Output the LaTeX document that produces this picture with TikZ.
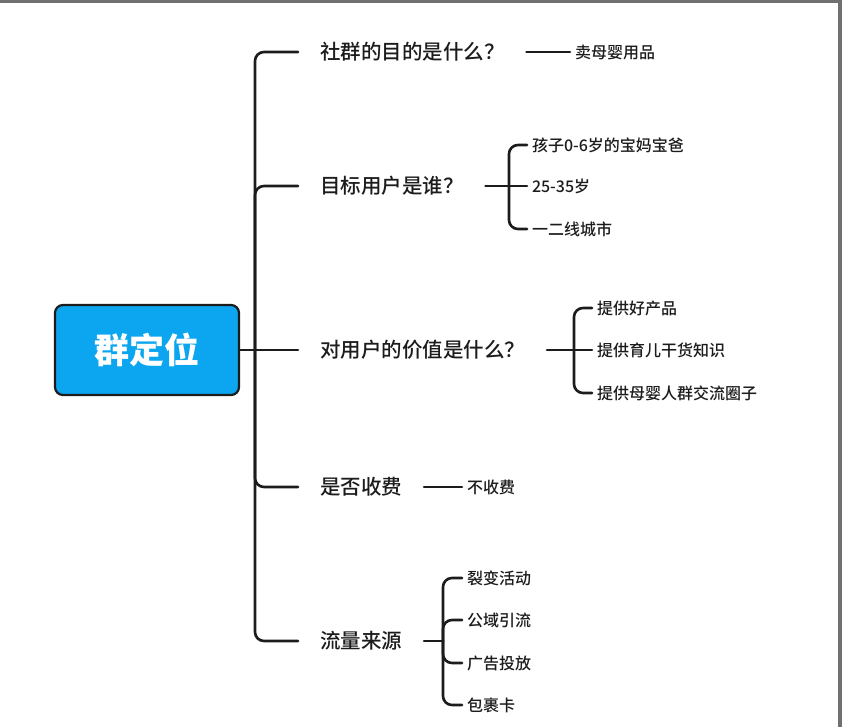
\documentclass[tikz,border=0pt]{standalone}
\usepackage{fontspec}
\setmainfont{Noto Sans CJK SC}
\newfontfamily\medfont{Noto Sans CJK SC Medium}
\usepackage{tikz}
\usepackage{xcolor}
\usetikzlibrary{positioning,calc}
\definecolor{topicblue}{RGB}{12,166,240}
\definecolor{ink}{RGB}{28,28,28}
\definecolor{screen}{RGB}{112,112,112}

\begin{document}
\begin{tikzpicture}[
    x=1pt, y=-1pt,
    topic/.style={draw=ink, line width=2.2pt, fill=topicblue, rounded corners=8pt, minimum width=184pt, minimum height=90pt, text=white, font=\bfseries\fontsize{35}{35}\selectfont},
    question/.style={anchor=west, inner xsep=0pt, outer xsep=22pt, text=ink, font=\medfont\fontsize{20.5}{20.5}\selectfont},
    answer/.style={anchor=west, inner xsep=0pt, outer xsep=5pt, text=ink, font=\medfont\fontsize{16}{16}\selectfont},
    link/.style={draw=ink, line width=2.6pt, rounded corners=9pt, line cap=round}
]
\useasboundingbox (0,0) rectangle (842,727);
% screenshot edges
\fill[screen] (0,0) rectangle (842,3);
\fill[screen] (838,0) rectangle (842,727);

\node[topic] (root) at (147,350) {群定位};
\coordinate (hub) at (255,350);

\node[question] (goal) at (298,52) {社群的目的是什么？};
\node[question] (users) at (298,186) {目标用户是谁？};
\node[question] (value) at (298,350) {对用户的价值是什么？};
\node[question] (fee) at (298,487) {是否收费};
\node[question] (traffic) at (298,641) {流量来源};

\node[answer] (sell) at (570,52) {卖母婴用品};

\coordinate (userhub) at (509,186);
\node[answer] (age) at (527,145) {孩子0-6岁的宝妈宝爸};
\node[answer] (range) at (527,186) {25-35岁};
\node[answer] (city) at (527,229) {一二线城市};

\coordinate (valuehub) at (574,350);
\node[answer] (product) at (592,308) {提供好产品};
\node[answer] (know) at (592,350) {提供育儿干货知识};
\node[answer] (circle) at (592,393) {提供母婴人群交流圈子};

\node[answer] (free) at (462,487) {不收费};

\coordinate (traffichub) at (443,641);
\node[answer] (split) at (462,578) {裂变活动};
\node[answer] (public) at (462,620) {公域引流};
\node[answer] (ads) at (462,663) {广告投放};
\node[answer] (card) at (462,705) {包裹卡};

% spine
\draw[link] (root.east) -- (hub);
\foreach \q in {goal,users,fee,traffic}
    \draw[link] (hub) |- (\q.west);
\draw[link] (hub) -- (value.west);

% second level
\draw[link] (goal.east) -- (sell.west);
\draw[link] (users.east) -- (userhub) -- (range.west);
\foreach \a in {age,city}
    \draw[link] (userhub) |- (\a.west);
\draw[link] (value.east) -- (valuehub) -- (know.west);
\foreach \a in {product,circle}
    \draw[link] (valuehub) |- (\a.west);
\draw[link] (fee.east) -- (free.west);
\draw[link] (traffic.east) -- (traffichub);
\foreach \a in {split,public,ads,card}
    \draw[link] (traffichub) |- (\a.west);

\end{tikzpicture}
\end{document}
